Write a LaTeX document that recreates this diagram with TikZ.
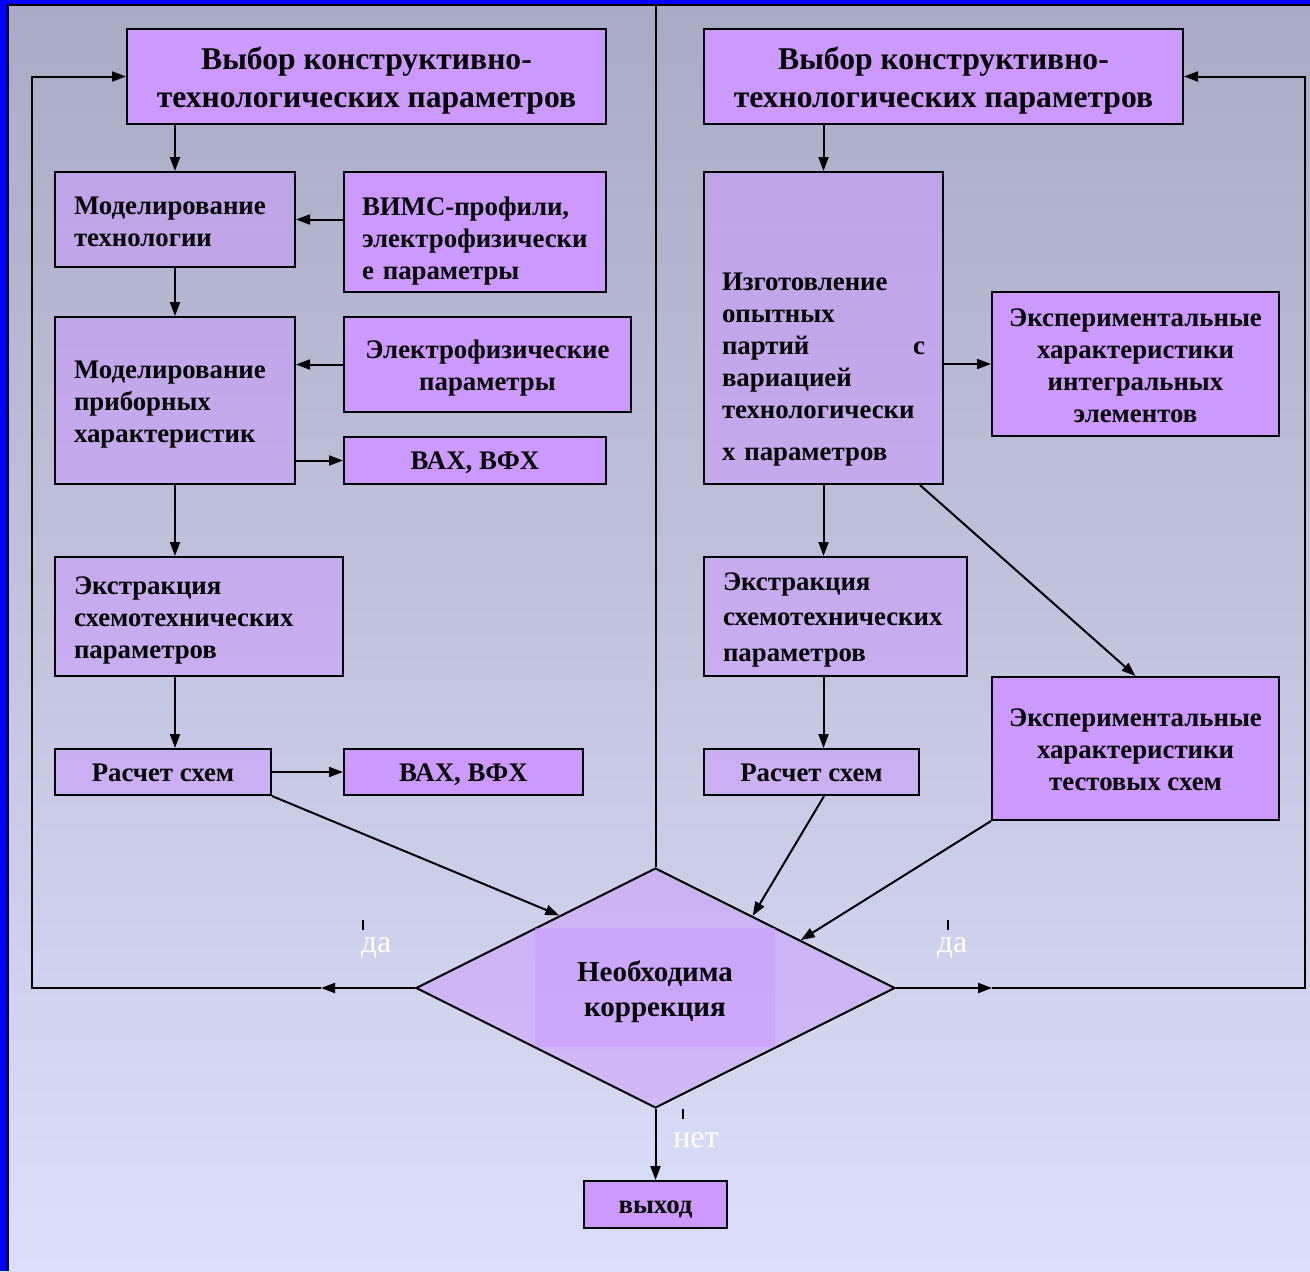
\documentclass[tikz,border=0pt]{standalone}
\usepackage{fontspec}
\setmainfont{Liberation Serif}
\usetikzlibrary{arrows.meta,shapes.geometric,calc}
\definecolor{boxc}{HTML}{CC99FF}
\definecolor{bgtop}{HTML}{A9AAC3}
\definecolor{bgbot}{HTML}{DCDFFA}
\newcommand\fbig{\fontsize{15.8pt}{19pt}\selectfont\bfseries}
\newcommand\fmid{\fontsize{13.4pt}{16pt}\selectfont\bfseries}
\newcommand\fdia{\fontsize{14.5pt}{17.5pt}\selectfont\bfseries}
\begin{document}
\begin{tikzpicture}[x=0.5pt,y=-0.5pt,
  box/.style={draw=black, line width=1pt, fill=boxc, inner sep=0pt, rectangle},
  sbox/.style={box, fill opacity=0.55, text opacity=1},
  one/.style={font=\fmid, text height=9.6pt, text depth=0.6pt},
  txt/.style={font=\fmid, inner sep=0pt},
  arr/.style={line width=1pt, -{Triangle[length=7pt,width=5pt]}},
  yes/.style={text=white, font=\fontsize{16pt}{18pt}\selectfont},
  tick/.style={line width=0.9pt}]
\useasboundingbox (0,0) rectangle (1310,1271);
\shade[top color=bgtop, bottom color=bgbot] (0,0) rectangle (1310,1271);
\fill[blue] (0,0) rectangle (1310,5);
\fill[blue] (0,0) rectangle (8,1271);
\draw[line width=1pt] (8,1271) -- (8,5) -- (1310,5);

\coordinate (sep) at (655.5,5);

% left column
\node[box, minimum width=239.5pt, minimum height=47.5pt] (L1) at (366.5,76.5) {};
\node[txt, font=\fbig, align=center] (L1t) at (366.5,81) {Выбор конструктивно-\\технологических параметров};
\node[sbox, minimum width=120pt, minimum height=47.5pt] (L2) at (175,219.5) {};
\node[txt, text width=101pt, align=left] (L2t) at (175,221.5) {Моделирование\\технологии};
\node[box, minimum width=131pt, minimum height=60pt] (L3) at (475,232) {};
\node[txt, text width=113pt, align=left] (L3t) at (475,241) {ВИМС-профили,\\электрофизически\\е параметры};
\node[sbox, minimum width=120pt, minimum height=83.5pt] (L4) at (175,400.5) {};
\node[txt, text width=101pt, align=left] (L4t) at (175,404.5) {Моделирование\\приборных\\характеристик};
\node[box, minimum width=143.5pt, minimum height=47.5pt] (L5) at (487.5,364.5) {};
\node[txt, align=center] (L5t) at (487.5,368.5) {Электрофизические\\параметры};
\node[box, one, minimum width=131pt, minimum height=23.5pt] (L6) at (475,460.5) {ВАХ, ВФХ};
\node[sbox, minimum width=144pt, minimum height=59.5pt] (L7) at (199,616.5) {};
\node[txt, text width=125pt, align=left] (L7t) at (199,620.5) {Экстракция\\схемотехнических\\параметров};
\node[sbox, one, minimum width=108pt, minimum height=23pt] (L8) at (163,772) {Расчет схем};
\node[box, one, minimum width=119.5pt, minimum height=23pt] (L9) at (463.5,772) {ВАХ, ВФХ};

% right column
\node[box, minimum width=239.5pt, minimum height=47.5pt] (R1) at (943.5,76.5) {};
\node[txt, font=\fbig, align=center] (R1t) at (943.5,81) {Выбор конструктивно-\\технологических параметров};
\node[sbox, minimum width=119.5pt, minimum height=156pt] (R2) at (823.5,328) {};
\node[txt, text width=101.5pt, align=left] (R2t) at (823.5,370) {Изготовление\\опытных\\\makebox[101.5pt][l]{партий\hfill с}\\вариацией\\технологически\\[5pt]х параметров};
\node[box, minimum width=143.5pt, minimum height=72pt] (R3) at (1135.5,364) {};
\node[txt, align=center] (R3t) at (1135.5,366) {Экспериментальные\\характеристики\\интегральных\\элементов};
\node[sbox, minimum width=131.5pt, minimum height=59.5pt] (R4) at (835.5,616.5) {};
\node[txt, text width=112.5pt, align=left] (R4t) at (835.5,619.5) {\fontsize{13.4pt}{17.75pt}\selectfont Экстракция\\схемотехнических\\параметров\par};
\node[sbox, one, minimum width=107.5pt, minimum height=23pt] (R5) at (811.5,772) {Расчет схем};
\node[box, minimum width=143.5pt, minimum height=71.5pt] (R6) at (1135.5,748.5) {};
\node[txt, align=center] (R6t) at (1135.5,749.5) {Экспериментальные\\характеристики\\тестовых схем};

% decision
\node[diamond, draw=black, line width=1pt, fill=boxc, fill opacity=0.5, minimum width=239.5pt, minimum height=120pt, inner sep=0pt] (D) at (655.5,988) {};
\node[fill=boxc, fill opacity=0.5, minimum width=120pt, minimum height=59.5pt, inner sep=0pt] (Dr) at (655,987.5) {};
\node[txt, font=\fdia, align=center] (Dt) at (655,992) {Необходима\\коррекция};
\node[box, one, minimum width=71.5pt, minimum height=23.5pt] (EX) at (655.5,1204.5) {выход};

\draw[line width=1pt] (sep) -- (D.north);

% left connectors
\draw[arr] (L1.south -| L2.north) -- (L2.north);
\draw[arr] (L3.west |- L2.east) -- (L2.east);
\draw[arr] (L2.south) -- (L4.north);
\draw[arr] (L5.west) -- (L5.west -| L4.east);
\draw[arr] (L4.east |- L6.west) -- (L6.west);
\draw[arr] (L4.south) -- (L4.south |- L7.north);
\draw[arr] (L7.south -| L4.south) -- (L8.north -| L4.south);
\draw[arr] (L8.east) -- (L9.west);
\draw[arr] (L8.south east) -- ($(D.west)!0.6!(D.north)$);

% right connectors
\draw[arr] (R1.south -| R2.north) -- (R2.north);
\draw[arr] (R2.east |- R3.west) -- (R3.west);
\draw[arr] (R2.south) -- (R2.south |- R4.north);
\draw[arr] (R4.south -| R2.south) -- (R5.north -| R2.south);
\draw[arr] ($(R2.south west)!0.9!(R2.south east)$) -- (R6.north);
\draw[arr] ($(R5.south west)!0.558!(R5.south east)$) -- ($(D.north)!0.404!(D.east)$);
\draw[arr] (R6.south west) -- ($(D.north)!0.604!(D.east)$);

% feedback loops
\coordinate (la) at (321,988);
\coordinate (lc) at (32,988);
\coordinate (ra) at (992,988);
\coordinate (rc) at (1305,988);
\draw[arr] (D.west) -- (la);
\draw[arr] (la) -- (lc) -- (lc |- L1.west) -- (L1.west);
\draw[arr] (D.east) -- (ra);
\draw[arr] (ra) -- (rc) -- (rc |- R1.east) -- (R1.east);
\draw[arr] (D.south) -- (EX.north);

% labels
\draw[tick] (363,920) -- (363,930);
\node[yes] (y1) at (376,948) {да};
\draw[tick] (948,920) -- (948,930);
\node[yes] (y2) at (952,948) {да};
\draw[tick] (683,1109) -- (683,1119);
\node[yes] (n1) at (696,1140) {нет};
\end{tikzpicture}
\end{document}
